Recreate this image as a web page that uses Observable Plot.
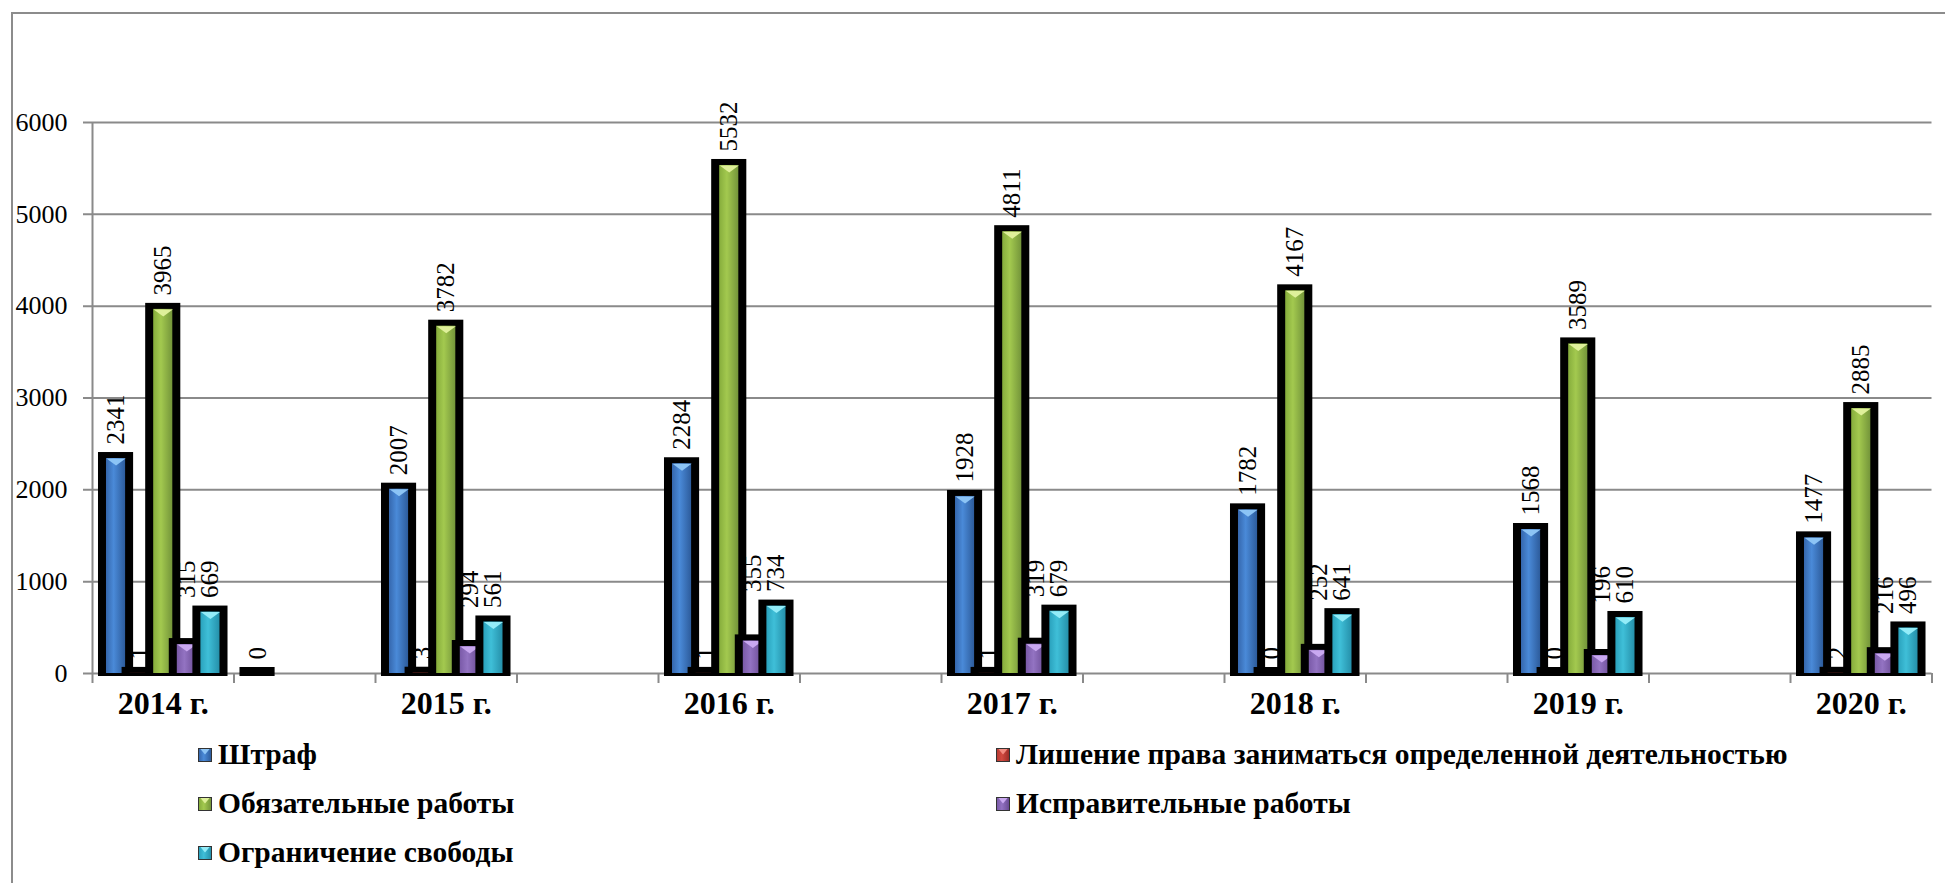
<!DOCTYPE html>
<html><head><meta charset="utf-8">
<script src="https://cdn.jsdelivr.net/npm/d3@7"></script>
<script src="https://cdn.jsdelivr.net/npm/@observablehq/plot@0.6"></script>
<style>
html,body{margin:0;padding:0;background:#fff;}
body{font-family:"Liberation Serif",serif;color:#000;width:1945px;height:883px;overflow:hidden;position:relative;}
#frame{position:absolute;left:11px;top:12px;width:1940px;height:900px;border-left:2px solid #8c8c8c;border-top:2px solid #8c8c8c;pointer-events:none;}
#chart svg{display:block;}
#legend{display:grid;grid-template-columns:798px auto;padding-left:198px;}
.item{display:flex;align-items:center;height:49px;font-family:"Liberation Serif",serif;font-weight:bold;font-size:29.5px;white-space:nowrap;}
.sw{position:relative;width:14px;height:14px;border:1px solid #333;margin-right:6px;flex:none;box-sizing:border-box;}
.tri{position:absolute;left:1px;top:0px;width:10px;height:6px;clip-path:polygon(0 0,100% 0,50% 100%);}
</style></head>
<body>
<div id="chart"></div>
<div id="legend"></div>
<div id="frame"></div>
<script>
// ---- data ----
const categories = ["2014 г.", "", "2015 г.", "", "2016 г.", "", "2017 г.", "", "2018 г.", "", "2019 г.", "", "2020 г."];
const seriesNames = ["Штраф", "Лишение права заниматься определенной деятельностью", "Обязательные работы", "Исправительные работы", "Ограничение свободы"];
const fine         = [2341, 0,    2007, null, 2284, null, 1928, null, 1782, null, 1568, null, 1477];
const deprivation  = [1,    null, 3,    null, 1,    null, 1,    null, 0,    null, 0,    null, 2];
const compulsory   = [3965, null, 3782, null, 5532, null, 4811, null, 4167, null, 3589, null, 2885];
const correctional = [315,  null, 294,  null, 355,  null, 319,  null, 252,  null, 196,  null, 216];
const restriction  = [669,  null, 561,  null, 734,  null, 679,  null, 641,  null, 610,  null, 496];
const yTicks = [0, 1000, 2000, 3000, 4000, 5000, 6000];

// ---- styles ----
const FONT = "Liberation Serif";
const palette = [
  {c0: "#3567ad", c1: "#4a8ad8", c2: "#2d5c9c", hi: "#8cc4f5"},
  {c0: "#b73a33", c1: "#d24a40", c2: "#9c2c27", hi: "#f28b80"},
  {c0: "#86ad3c", c1: "#a3c94f", c2: "#74953a", hi: "#dff09a"},
  {c0: "#7a5aa8", c1: "#9373c2", c2: "#6a4b94", hi: "#c9a8f0"},
  {c0: "#2aa2bd", c1: "#3fbfd8", c2: "#2590aa", hi: "#93ecf8"}
];
const allSeries = [fine, deprivation, compulsory, correctional, restriction];

const W = 1945, H = 730, ML = 92, MR = 13.5, MT = 122, MB = 57;
const bw = (W - ML - MR) / categories.length;
const pad = bw * 0.083, slot = (bw - 2 * pad) / 5, fillW = slot * 0.81, border = 8;
const grid = "#8a8a8a";

const tri = {draw(ctx) { ctx.moveTo(-fillW / 2, 0); ctx.lineTo(fillW / 2, 0); ctx.lineTo(0, 7); ctx.closePath(); }};

const marks = [
  Plot.ruleY(yTicks, {y: d => d, stroke: grid, strokeWidth: 2, insetLeft: -9}),
  Plot.ruleX([0], {x: d => d, dx: -bw / 2, y1: 0, y2: 6000, stroke: grid, strokeWidth: 2}),
  Plot.ruleX(d3.range(categories.length), {x: d => d, dx: -bw / 2, y1: 0, y2: 0, insetBottom: -10, stroke: grid, strokeWidth: 2}),
  Plot.ruleX([categories.length - 1], {x: d => d, dx: bw / 2, y1: 0, y2: 0, insetBottom: -10, stroke: grid, strokeWidth: 2}),
  Plot.text(yTicks, {y: d => d, text: d => String(d), frameAnchor: "left", textAnchor: "end", dx: -25, fontSize: 26, fontFamily: FONT, fill: "black"}),
  Plot.text(d3.range(categories.length), {x: d => d, text: d => categories[d], frameAnchor: "bottom", dy: 40, fontSize: 32, fontWeight: "bold", fontFamily: FONT, fill: "black"})
];

const labelMarks = [];
allSeries.forEach((vals, si) => {
  const rows = vals.map((v, i) => ({i, v})).filter(d => d.v != null);
  const fl = pad + slot * si + (slot - fillW) / 2;
  const fr = bw - fl - fillW;
  const cx = fl + fillW / 2 - bw / 2;
  marks.push(Plot.barY(rows, {x: "i", y: "v", fill: "black", insetLeft: fl - border, insetRight: fr - border, insetTop: -6, insetBottom: -3}));
  marks.push(Plot.barY(rows, {x: "i", y: "v", fill: `url(#g${si})`, insetLeft: fl, insetRight: fr}));
  marks.push(Plot.dot(rows.filter(d => d.v > 100), {x: "i", y: "v", dx: cx, symbol: tri, fill: palette[si].hi, stroke: "none"}));
  // a label sits above its own bar, or above the next (taller) bar when that bar would hide it
  const next = allSeries[si + 1];
  const lab = Plot.text(rows, {
    x: "i",
    y: d => (si === 3 && next && next[d.i] != null) ? Math.max(d.v, next[d.i]) : d.v,
    text: d => String(d.v), rotate: -90, textAnchor: "start", dx: cx, dy: -14,
    fontSize: 25, fontFamily: FONT, fill: "black"
  });
  if (si === 1) marks.push(lab); else labelMarks.push(lab);
});
marks.push(...labelMarks);

const svg = Plot.plot({
  width: W, height: H,
  marginLeft: ML, marginRight: MR, marginTop: MT, marginBottom: MB,
  x: {type: "band", domain: d3.range(categories.length), padding: 0, round: false, axis: null},
  y: {domain: [0, 6000], axis: null},
  style: {fontFamily: FONT, color: "black", background: "transparent"},
  marks
});
const defs = d3.select(svg).insert("defs", ":first-child");
palette.forEach((p, si) => {
  const g = defs.append("linearGradient").attr("id", `g${si}`).attr("x1", 0).attr("x2", 1).attr("y1", 0).attr("y2", 0);
  g.append("stop").attr("offset", "0%").attr("stop-color", p.c0);
  g.append("stop").attr("offset", "40%").attr("stop-color", p.c1);
  g.append("stop").attr("offset", "100%").attr("stop-color", p.c2);
});
document.getElementById("chart").appendChild(svg);

// legend: two columns, filled row by row
const legend = document.getElementById("legend");
seriesNames.forEach((name, si) => {
  const p = palette[si];
  const item = document.createElement("div");
  item.className = "item";
  const sw = document.createElement("span");
  sw.className = "sw";
  sw.style.background = `linear-gradient(90deg, ${p.c0}, ${p.c1} 40%, ${p.c2})`;
  const t = document.createElement("span");
  t.className = "tri";
  t.style.background = p.hi;
  sw.appendChild(t);
  item.appendChild(sw);
  const label = document.createElement("span");
  label.textContent = name;
  item.appendChild(label);
  legend.appendChild(item);
});
</script>
</body></html>
